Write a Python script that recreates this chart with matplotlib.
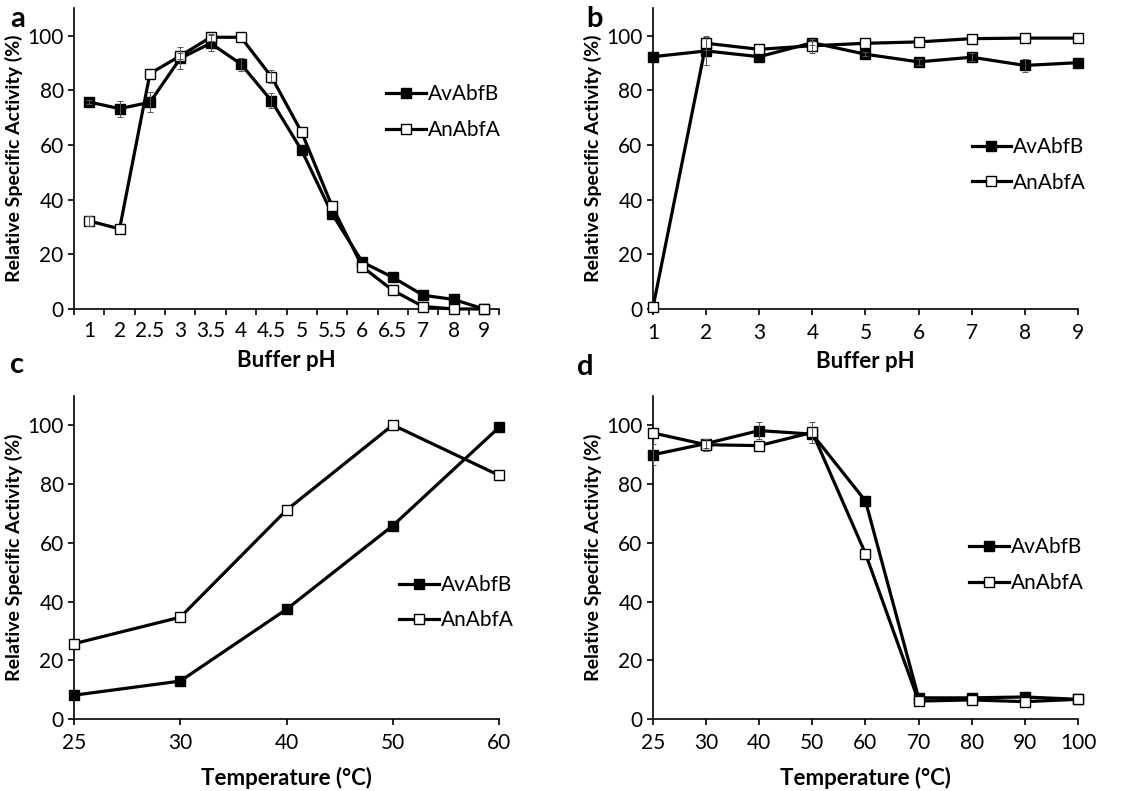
import numpy as np
import matplotlib
matplotlib.use('Agg')
import matplotlib.pyplot as plt

plt.rcParams['font.family'] = ['Lato', 'DejaVu Sans']

# panel a: pH optimum
ph_a_labels = ['1', '2', '2.5', '3', '3.5', '4', '4.5', '5', '5.5', '6', '6.5', '7', '8', '9']
a_avabfb = [75.7, 73.3, 75.6, 91.7, 97.2, 89.6, 76.2, 58.0, 34.8, 17.1, 11.6, 5.0, 3.5, 0.0]
a_anabfa = [32.2, 29.3, 86.1, 92.6, 99.4, 99.4, 85.0, 64.6, 37.6, 15.4, 6.8, 0.9, 0.0, 0.0]
a_avabfb_err = [0.8, 2.9, 3.6, 4.0, 3.0, 2.4, 2.8, 0, 0, 0, 0, 0, 0, 0]
a_anabfa_err = [1.8, 0, 0, 1.0, 1.2, 0, 2.4, 0, 0, 0, 0, 0, 0, 0]

# panel b: pH stability
ph_b_labels = ['1', '2', '3', '4', '5', '6', '7', '8', '9']
b_avabfb = [92.3, 94.4, 92.3, 97.4, 93.2, 90.4, 92.1, 89.1, 90.1]
b_anabfa = [0.6, 97.2, 95.0, 96.3, 97.2, 97.7, 98.9, 99.1, 99.1]
b_avabfb_err = [0, 5.0, 0, 0.8, 0.8, 1.0, 1.4, 2.5, 0]
b_anabfa_err = [0, 2.5, 0, 2.5, 0, 0, 0, 0, 0]

# panel c: temperature optimum
temp_c_labels = ['25', '30', '40', '50', '60']
c_avabfb = [8.2, 13.0, 37.4, 65.8, 99.2]
c_anabfa = [25.7, 34.7, 71.1, 100.0, 82.9]

# panel d: temperature stability
temp_d_labels = ['25', '30', '40', '50', '60', '70', '80', '90', '100']
d_avabfb = [89.9, 93.7, 98.1, 96.9, 74.2, 7.3, 7.3, 7.6, 6.8]
d_anabfa = [97.3, 93.3, 93.0, 97.5, 56.3, 6.2, 6.6, 6.0, 6.8]
d_avabfb_err = [3.5, 1.5, 2.8, 0, 0, 0, 0, 0, 0]
d_anabfa_err = [0, 2.0, 0, 3.5, 0, 0, 0, 0, 0]

fig = plt.figure(figsize=(11.48, 7.91), dpi=100)

ax_a = fig.add_axes([0.0645, 0.6094, 0.3702, 0.3801])
ax_b = fig.add_axes([0.5688, 0.6094, 0.3702, 0.3801])
ax_c = fig.add_axes([0.0645, 0.0906, 0.3702, 0.4093])
ax_d = fig.add_axes([0.5688, 0.0906, 0.3702, 0.4093])

line_kw = dict(color='black', lw=2.3, marker='s', markersize=7,
               markeredgecolor='black', markeredgewidth=1.0, clip_on=False)
err_kw = dict(fmt='none', ecolor='#555555', elinewidth=0.7, capsize=2.5, capthick=0.7)


def draw(ax, labels, av, an, av_err=None, an_err=None, between=False):
    x = np.arange(len(labels))
    if av_err is not None:
        xe = [i for i in x if av_err[i] > 0]
        ax.errorbar(xe, [av[i] for i in xe], yerr=[av_err[i] for i in xe], zorder=4, **err_kw)
        xe = [i for i in x if an_err[i] > 0]
        ax.errorbar(xe, [an[i] for i in xe], yerr=[an_err[i] for i in xe], zorder=4, **err_kw)
    ax.plot(x, av, markerfacecolor='black', label='AvAbfB', zorder=3, **line_kw)
    ax.plot(x, an, markerfacecolor='white', label='AnAbfA', zorder=3, **line_kw)
    ax.set_ylim(0, 110)
    ax.set_yticks([0, 20, 40, 60, 80, 100])
    if between:
        ax.set_xlim(-0.5, len(labels) - 0.5)
        ax.set_xticks(np.arange(len(labels) + 1) - 0.5)
        ax.set_xticklabels([])
        ax.set_xticks(x, minor=True)
        ax.set_xticklabels(labels, minor=True)
        ax.tick_params(axis='x', which='minor', length=0, pad=9)
    else:
        ax.set_xlim(0, len(labels) - 1)
        ax.set_xticks(x)
        ax.set_xticklabels(labels)
    ax.spines['top'].set_visible(False)
    ax.spines['right'].set_visible(False)
    ax.spines['left'].set_linewidth(1.2)
    ax.spines['bottom'].set_linewidth(1.2)
    ax.tick_params(axis='both', which='major', direction='out', length=4, width=1.2,
                   labelsize=15)
    ax.tick_params(axis='x', which='minor', labelsize=15)
    ax.set_ylabel('Relative Specific Activity (%)', fontsize=14, fontweight='bold', labelpad=3)


draw(ax_a, ph_a_labels, a_avabfb, a_anabfa, a_avabfb_err, a_anabfa_err, between=True)
draw(ax_b, ph_b_labels, b_avabfb, b_anabfa, b_avabfb_err, b_anabfa_err)
draw(ax_c, temp_c_labels, c_avabfb, c_anabfa)
draw(ax_d, temp_d_labels, d_avabfb, d_anabfa, d_avabfb_err, d_anabfa_err)

ax_a.set_xlabel('Buffer pH', fontsize=16, fontweight='bold', labelpad=6)
ax_b.set_xlabel('Buffer pH', fontsize=16, fontweight='bold', labelpad=6)
ax_c.set_xlabel('Temperature (°C)', fontsize=16, fontweight='bold', labelpad=10)
ax_d.set_xlabel('Temperature (°C)', fontsize=16, fontweight='bold', labelpad=10)
for ax in (ax_b, ax_c, ax_d):
    ax.tick_params(axis='x', which='major', pad=6)

leg_pos = {ax_a: (0.715, 0.775), ax_b: (0.73, 0.60), ax_c: (0.745, 0.472), ax_d: (0.725, 0.588)}
for ax, pos in leg_pos.items():
    ax.legend(loc='upper left', bbox_to_anchor=pos, frameon=False, fontsize=15,
              handlelength=1.9, handletextpad=0.1, labelspacing=0.75, borderaxespad=0)

fig.text(0.009, 0.966, 'a', fontsize=21, fontweight='bold')
fig.text(0.511, 0.966, 'b', fontsize=21, fontweight='bold')
fig.text(0.009, 0.528, 'c', fontsize=21, fontweight='bold')
fig.text(0.503, 0.526, 'd', fontsize=21, fontweight='bold')

fig.savefig('out.png', dpi=100)
